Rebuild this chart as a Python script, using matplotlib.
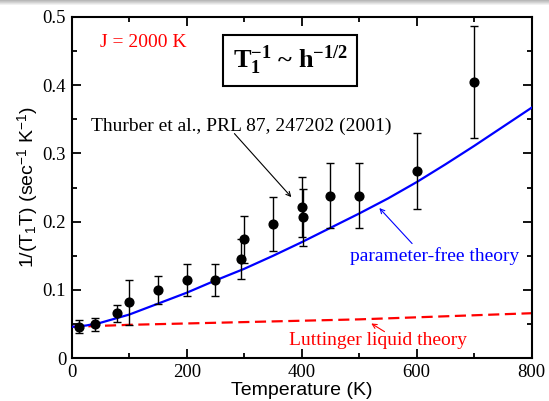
import matplotlib
matplotlib.use("Agg")
import matplotlib.pyplot as plt
import numpy as np
from matplotlib.ticker import MultipleLocator, FuncFormatter

# measured data (Thurber et al.)
temps = [12, 40, 78, 100, 150, 200, 250, 294, 300, 350, 400, 403, 450, 500, 600, 700]
rates = [0.0455, 0.050, 0.066, 0.082, 0.100, 0.115, 0.115, 0.145, 0.174, 0.196,
         0.221, 0.207, 0.238, 0.238, 0.274, 0.404]
err_low = [0.0365, 0.040, 0.053, 0.049, 0.080, 0.091, 0.091, 0.116, 0.140, 0.157,
           0.177, 0.165, 0.191, 0.191, 0.219, 0.323]
err_high = [0.056, 0.0595, 0.078, 0.114, 0.121, 0.138, 0.138, 0.175, 0.208, 0.236,
            0.265, 0.248, 0.286, 0.286, 0.330, 0.486]

# parameter-free theory curve
theory_t = [0, 25, 50, 75, 100, 150, 200, 250, 300, 350, 400, 450, 500, 550, 600,
            650, 700, 750, 800]
theory_rate = [0.046, 0.048, 0.052, 0.058, 0.064, 0.080, 0.096, 0.114, 0.131, 0.150,
               0.170, 0.191, 0.212, 0.234, 0.258, 0.284, 0.311, 0.339, 0.367]

# Luttinger liquid theory curve
lutt_t = [0, 100, 200, 300, 400, 500, 600, 700, 800]
lutt_rate = [0.046, 0.049, 0.051, 0.053, 0.055, 0.057, 0.060, 0.063, 0.066]

SERIF = "Liberation Serif"
SANS = "Liberation Sans"

plt.rcParams["font.family"] = SERIF
plt.rcParams["mathtext.fontset"] = "custom"
plt.rcParams["mathtext.rm"] = SERIF
plt.rcParams["mathtext.it"] = SERIF + ":italic"
plt.rcParams["mathtext.bf"] = SERIF + ":bold"
plt.rcParams["mathtext.sf"] = SANS

fig = plt.figure(figsize=(5.49, 4.01), dpi=100)

# grey shading along the top edge of the slide screenshot
shade = fig.add_axes([0, 1 - 6 / 401, 1, 6 / 401])
shade.imshow(np.linspace(0.72, 1.0, 6).reshape(-1, 1), cmap="gray", vmin=0, vmax=1,
             aspect="auto", extent=(0, 1, 0, 1))
shade.axis("off")

ax = fig.add_axes([0.1306, 0.1065, 0.8379, 0.8516])

ax.plot(lutt_t, lutt_rate, color="red", linestyle=(0, (5, 2.5)), linewidth=1.6, zorder=2)
ax.plot(theory_t, theory_rate, color="blue", linewidth=1.6, zorder=3)

yerr = [[r - lo for r, lo in zip(rates, err_low)],
        [hi - r for r, hi in zip(rates, err_high)]]
ax.errorbar(temps, rates, yerr=yerr, fmt="o", color="black", markersize=6.3,
            elinewidth=1.0, capsize=3.0, capthick=1.0, zorder=4)

ax.set_xlim(0, 800)
ax.set_ylim(0, 0.5)
ax.xaxis.set_major_locator(MultipleLocator(200))
ax.xaxis.set_minor_locator(MultipleLocator(100))
ax.yaxis.set_major_locator(MultipleLocator(0.1))
ax.yaxis.set_minor_locator(MultipleLocator(0.05))
ax.yaxis.set_major_formatter(FuncFormatter(lambda v, _: "0" if abs(v) < 1e-9 else f"{v:g}"))
ax.tick_params(which="both", direction="in", top=True, right=True, width=1.3,
               labelsize=13.5, pad=4)
ax.tick_params(which="major", length=6.5)
ax.tick_params(which="minor", length=3.5)
for spine in ax.spines.values():
    spine.set_linewidth(1.5)

ax.set_xlabel("Temperature (K)", fontfamily=SANS, fontsize=14, labelpad=1)
ax.set_ylabel(r"1/(T$_\mathsf{1}$T) (sec$^\mathsf{-1}$ K$^\mathsf{-1}$)",
              fontfamily=SANS, fontsize=14)
ax.yaxis.set_label_coords(-0.067, 0.5)

ax.text(125, 0.463, "J = 2000 K", color="red", fontsize=14, ha="center", va="center")
ax.text(380, 0.436, r"$\mathbf{T_1^{-1}}$ ~ $\mathbf{h^{-1/2}}$", fontsize=19,
        fontweight="bold", ha="center", va="center",
        bbox=dict(boxstyle="square,pad=0.35", facecolor="white", edgecolor="black",
                  linewidth=1.5))

ax.text(294, 0.340, "Thurber et al., PRL 87, 247202 (2001)", fontsize=14,
        ha="center", va="center")
ax.annotate("", xy=(382, 0.236), xytext=(283, 0.329),
            arrowprops=dict(arrowstyle="->", color="black", lw=0.8, shrinkA=0, shrinkB=0,
                            mutation_scale=8))
ax.annotate("", xy=(535, 0.220), xytext=(592, 0.168),
            arrowprops=dict(arrowstyle="->", color="blue", lw=0.8, shrinkA=0, shrinkB=0,
                            mutation_scale=8))
ax.text(631, 0.150, "parameter-free theory", color="blue", fontsize=14,
        ha="center", va="center")
ax.annotate("", xy=(521, 0.051), xytext=(544, 0.039),
            arrowprops=dict(arrowstyle="->", color="red", lw=0.8, shrinkA=0, shrinkB=0,
                            mutation_scale=8))
ax.text(533, 0.026, "Luttinger liquid theory", color="red", fontsize=14,
        ha="center", va="center")

fig.savefig("out.png", dpi=100)
